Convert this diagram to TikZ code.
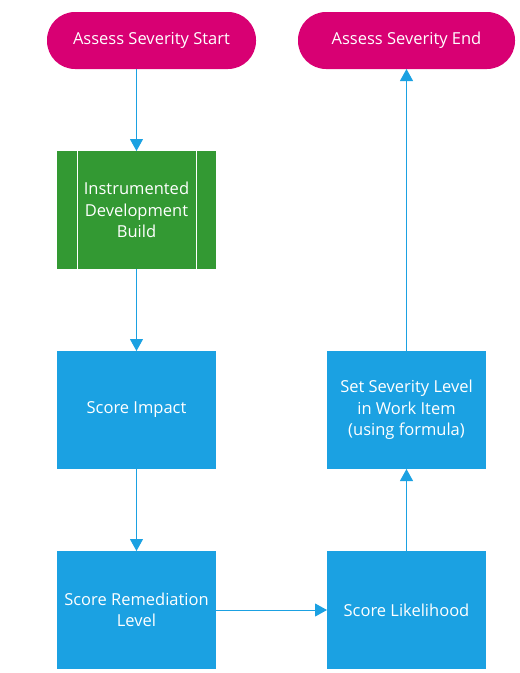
\documentclass[tikz,border=0pt]{standalone}
\usepackage{fontspec}
\setmainfont{Open Sans}
\usepackage{tikz}
\usetikzlibrary{positioning,arrows.meta}
\usepackage{xcolor}
\definecolor{termpink}{HTML}{D80073}
\definecolor{procblue}{HTML}{1BA1E2}
\definecolor{buildgreen}{HTML}{339933}

\begin{document}
\begin{tikzpicture}[x=1pt, y=-1pt,
  term/.style={fill=termpink, rounded corners=28pt, minimum height=57pt, inner sep=0pt, outer sep=0pt, text=white, font=\fontsize{16.5}{21.5}\selectfont},
  proc/.style={fill=procblue, minimum width=159pt, minimum height=118pt, inner sep=0pt, outer sep=0pt, align=center, text=white, font=\fontsize{16.5}{21.5}\selectfont},
  buildbox/.style={proc, fill=buildgreen},
  arrow/.style={-{Triangle[width=13pt,length=12pt]}, draw=procblue, line width=1pt}
]
\useasboundingbox (0,0) rectangle (520,673);

\node[term, minimum width=209pt] (A) at (151.5,40.5) {Assess Severity Start};
\node[term, minimum width=217pt] (B) at (406.5,40.5) {Assess Severity End};

\node[buildbox] (C) at (136.5,210) {Instrumented\\Development\\Build};
\node[proc] (D) at (136.5,410) {Score Impact};
\node[proc] (E) at (136.5,610) {Score Remediation\\Level};
\node[proc] (F) at (406.5,610) {Score Likelihood};
\node[proc] (G) at (406.5,410) {Set Severity Level\\in Work Item\\(using formula)};

% side bars of the build box
\draw[white, line width=1pt] ([xshift=20pt]C.north west) -- ([xshift=20pt]C.south west);
\draw[white, line width=1pt] ([xshift=-20pt]C.north east) -- ([xshift=-20pt]C.south east);

\draw[arrow] (A.south -| C.north) -- (C.north);
\draw[arrow] (C) -- (D);
\draw[arrow] (D) -- (E);
\draw[arrow] (E) -- (F);
\draw[arrow] (F) -- (G);
\draw[arrow] (G) -- (B);

\end{tikzpicture}
\end{document}
